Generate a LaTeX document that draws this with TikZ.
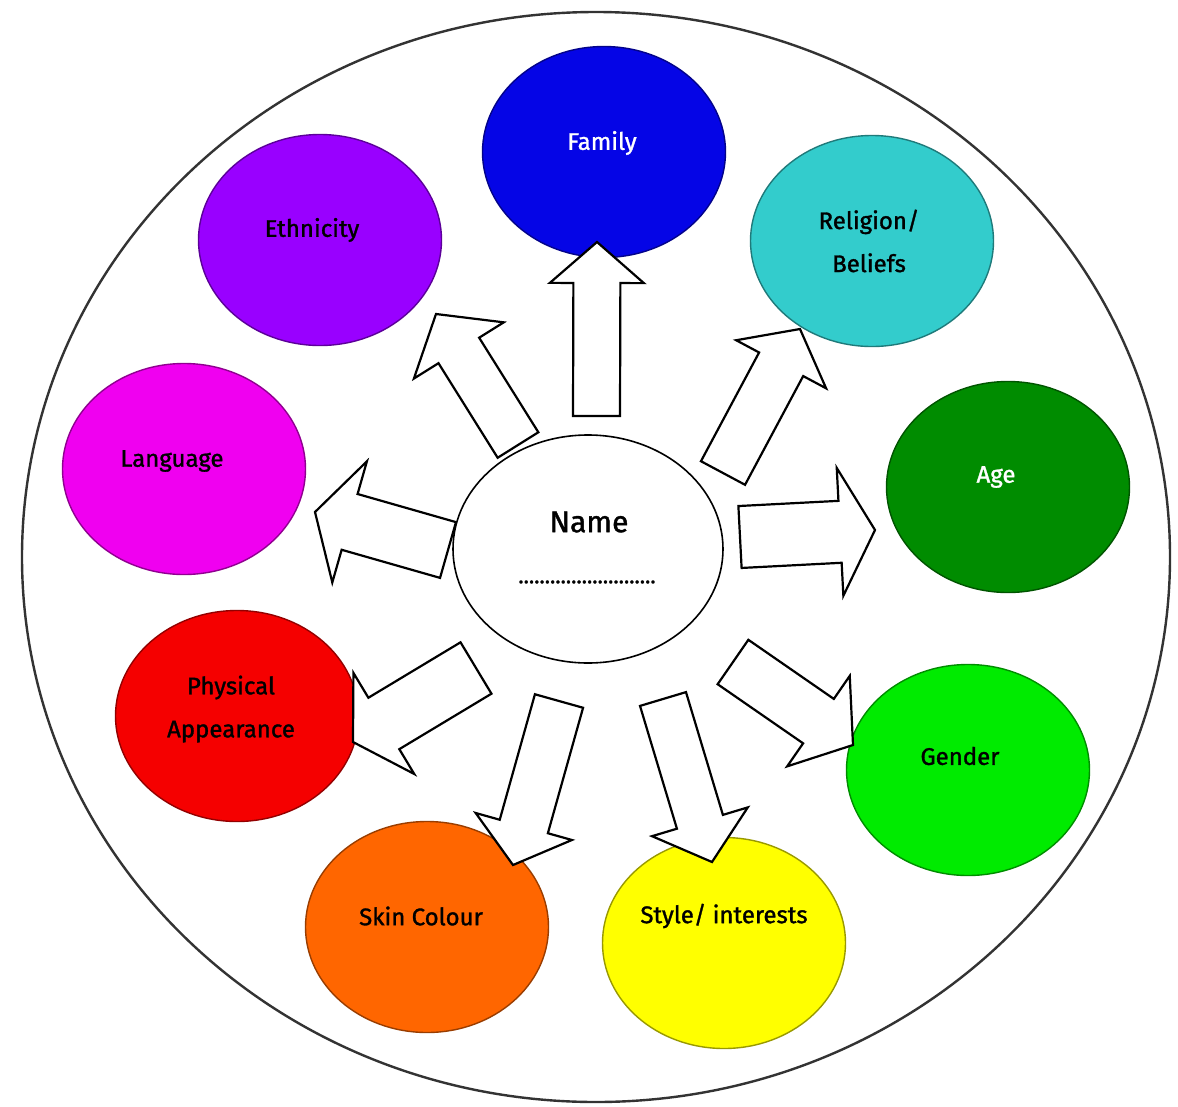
\documentclass[tikz,border=0pt]{standalone}
\usepackage{fontspec}
\setmainfont{Fira Sans}
\newfontfamily\lblfont{Fira Sans}[FakeBold=1.3]
\usetikzlibrary{shapes.geometric,calc}
\definecolor{cfam}{RGB}{5,5,230}
\definecolor{crel}{RGB}{51,204,204}
\definecolor{ceth}{RGB}{153,0,255}
\definecolor{clan}{RGB}{240,0,240}
\definecolor{cage}{RGB}{0,140,0}
\definecolor{cphy}{RGB}{245,0,0}
\definecolor{cgen}{RGB}{0,235,0}
\definecolor{cski}{RGB}{255,102,0}
\definecolor{csty}{RGB}{255,255,0}
\tikzset{
  bubble/.style={ellipse, inner sep=0pt, minimum width=243pt, minimum height=211pt, line width=1.4pt},
  lbl/.style={font=\lblfont\fontsize{24}{43}\selectfont, align=center, inner sep=0pt},
  barrow/.style={draw=black, fill=white, line width=2.2pt, line join=miter},
}
\newcommand\blockarr[5]{%
  \coordinate (#1h) at ($(#2)!#5pt!(#1)$);
  \draw[barrow] ($(#1)!#3pt!90:(#2)$) -- ($(#1h)!#3pt!90:(#2)$) -- ($(#1h)!#4pt!90:(#2)$) -- (#2) -- ($(#1h)!#4pt!-90:(#2)$) -- ($(#1h)!#3pt!-90:(#2)$) -- ($(#1)!#3pt!-90:(#2)$) -- cycle;
}
\begin{document}
\begin{tikzpicture}[x=1pt,y=-1pt]
\useasboundingbox (0,0) rectangle (1178,1106);
\fill[white] (0,0) rectangle (1178,1106);
% outer ellipse
\node[ellipse, draw=black!80, line width=2.4pt, minimum width=1148pt, minimum height=1090pt, inner sep=0pt] (outer) at (596,557) {};
% coloured ellipses
\node[bubble, fill=cfam, draw=cfam!60!black] (fam) at (604,152) {};
\node[bubble, fill=crel, draw=crel!60!black] (rel) at (872,241) {};
\node[bubble, fill=ceth, draw=ceth!60!black] (eth) at (320,240) {};
\node[bubble, fill=clan, draw=clan!60!black] (lan) at (184,469) {};
\node[bubble, fill=cage, draw=cage!60!black] (age) at (1008,487) {};
\node[bubble, fill=cphy, draw=cphy!60!black] (phy) at (237,716) {};
\node[bubble, fill=cgen, draw=cgen!60!black] (gen) at (968,770) {};
\node[bubble, fill=cski, draw=cski!60!black] (ski) at (427,927) {};
\node[bubble, fill=csty, draw=csty!60!black] (sty) at (724,943) {};
% centre
\node[ellipse, draw=black, fill=white, line width=1.6pt, minimum width=270pt, minimum height=228pt, inner sep=0pt] (name) at (588,549) {};
% arrow end points
\coordinate (tFam) at (596.5,416); \coordinate (pFam) at (597,242);
\coordinate (tEth) at (518,445);   \coordinate (pEth) at (436,314);
\coordinate (tRel) at (723,473);   \coordinate (pRel) at (800,329);
\coordinate (tLan) at (448,550);   \coordinate (pLan) at (315,512);
\coordinate (tAge) at (740,537);   \coordinate (pAge) at (875,530);
\coordinate (tGen) at (733,662);   \coordinate (pGen) at (853,745);
\coordinate (tSty) at (663,699);   \coordinate (pSty) at (712,862);
\coordinate (tSki) at (559,701);   \coordinate (pSki) at (513,865);
\coordinate (tPhy) at (476,668);   \coordinate (pPhy) at (353,742);
\blockarr{tFam}{pFam}{23.5}{47}{41}
\blockarr{tEth}{pEth}{24}{53}{43}
\blockarr{tRel}{pRel}{25}{51}{40}
\blockarr{tLan}{pLan}{29}{63}{36}
\blockarr{tAge}{pAge}{31}{64}{35}
\blockarr{tGen}{pGen}{27}{55}{42}
\blockarr{tSty}{pSty}{24}{50}{42}
\blockarr{tSki}{pSki}{25}{50}{40}
\blockarr{tPhy}{pPhy}{30}{59}{36}
% labels
\node[lbl, text=white] (famt) at (602,143) {Family};
\node[lbl] (relt) at (869,241) {Religion/\\Beliefs};
\node[lbl] (etht) at (312,230) {Ethnicity};
\node[lbl] (lant) at (172,461) {Language};
\node[lbl, text=white] (aget) at (996,477) {Age};
\node[lbl] (phyt) at (231,709) {Physical\\Appearance};
\node[lbl] (gent) at (960,756) {Gender};
\node[lbl] (skit) at (421,916) {Skin Colour};
\node[lbl] (styt) at (724,916) {Style/ interests};
\node[font=\lblfont\fontsize{30}{36}\selectfont, inner sep=0pt] (namet) at (589,522) {Name};
\node[font=\lblfont\fontsize{22}{26}\selectfont, inner sep=0pt] (dots) at (587,582) {..........................};
\end{tikzpicture}
\end{document}
